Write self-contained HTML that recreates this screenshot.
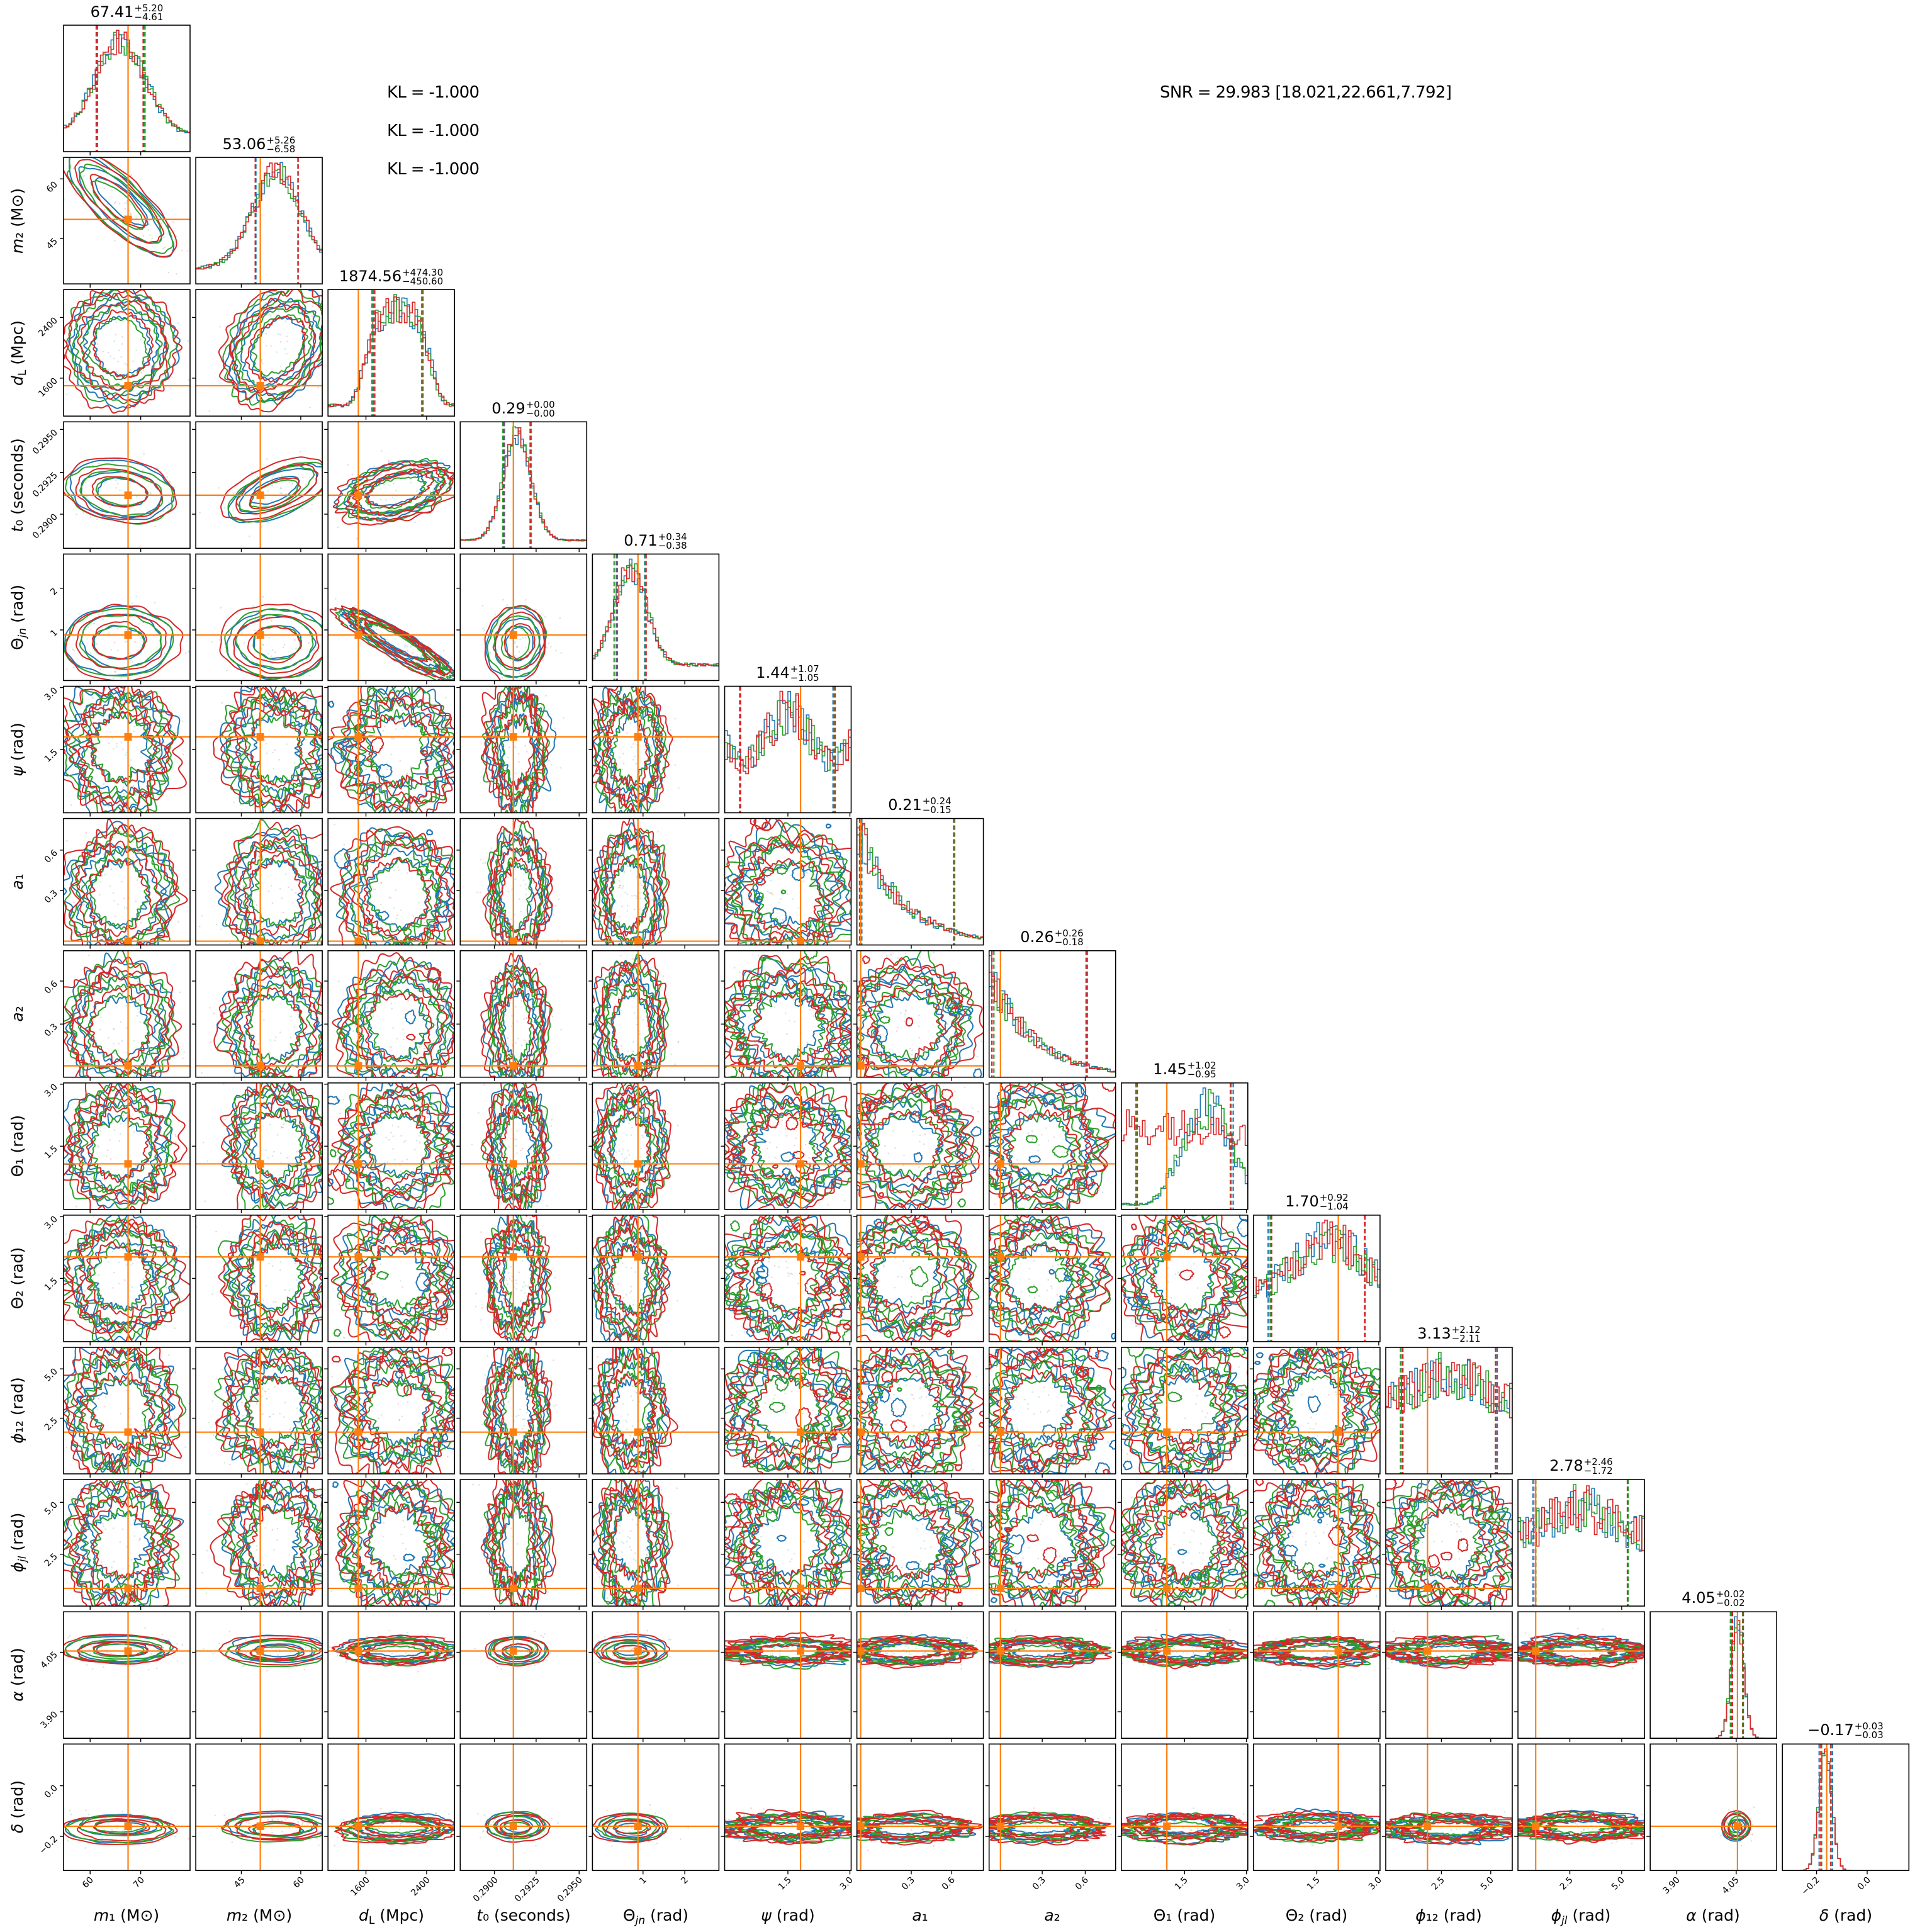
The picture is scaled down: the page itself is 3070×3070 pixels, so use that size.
<!DOCTYPE html>
<html><head><meta charset="utf-8">
<style>
body{margin:0;background:#fff;width:3070px;height:3070px;overflow:hidden;position:relative;font-family:"DejaVu Sans","Liberation Sans",sans-serif}
.t{position:absolute;width:201px;text-align:center;white-space:nowrap;font-size:24px;line-height:30px;height:30px;color:#000}
.t .ss{display:inline-block;vertical-align:middle;font-size:15px;line-height:14px;text-align:left;margin-left:1px}
svg text{font-family:"DejaVu Sans","Liberation Sans",sans-serif;fill:#000}
.tk{font-size:14px}
.al{font-size:25px}
.big{font-size:26px}
</style></head><body>
<svg id="s" width="3070" height="3070" style="position:absolute;left:0;top:0">
<defs id="df"></defs>
<g id="g"></g>
<text class="big" x="615" y="155" textLength="147">KL = -1.000</text>
<text class="big" x="615" y="216" textLength="147">KL = -1.000</text>
<text class="big" x="615" y="277" textLength="147">KL = -1.000</text>
<text class="big" x="1843" y="155" textLength="464">SNR = 29.983 [18.021,22.661,7.792]</text>
<g class="tk" text-anchor="end">
<text x="149" y="2988" transform="rotate(-45 149 2988)">60</text>
<text x="230" y="2988" transform="rotate(-45 230 2988)">70</text>
<text x="390" y="2988" transform="rotate(-45 390 2988)">45</text>
<text x="484" y="2988" transform="rotate(-45 484 2988)">60</text>
<text x="588" y="2988" transform="rotate(-45 588 2988)">1600</text>
<text x="684" y="2988" transform="rotate(-45 684 2988)">2400</text>
<text x="792" y="2988" transform="rotate(-45 792 2988)">0.2900</text>
<text x="858" y="2988" transform="rotate(-45 858 2988)">0.2925</text>
<text x="926" y="2988" transform="rotate(-45 926 2988)">0.2950</text>
<text x="1028" y="2988" transform="rotate(-45 1028 2988)">1</text>
<text x="1094" y="2988" transform="rotate(-45 1094 2988)">2</text>
<text x="1258" y="2988" transform="rotate(-45 1258 2988)">1.5</text>
<text x="1356" y="2988" transform="rotate(-45 1356 2988)">3.0</text>
<text x="1454" y="2988" transform="rotate(-45 1454 2988)">0.3</text>
<text x="1518" y="2988" transform="rotate(-45 1518 2988)">0.6</text>
<text x="1662" y="2988" transform="rotate(-45 1662 2988)">0.3</text>
<text x="1730" y="2988" transform="rotate(-45 1730 2988)">0.6</text>
<text x="1888" y="2988" transform="rotate(-45 1888 2988)">1.5</text>
<text x="1986" y="2988" transform="rotate(-45 1986 2988)">3.0</text>
<text x="2098" y="2988" transform="rotate(-45 2098 2988)">1.5</text>
<text x="2196" y="2988" transform="rotate(-45 2196 2988)">3.0</text>
<text x="2296" y="2988" transform="rotate(-45 2296 2988)">2.5</text>
<text x="2374" y="2988" transform="rotate(-45 2374 2988)">5.0</text>
<text x="2500" y="2988" transform="rotate(-45 2500 2988)">2.5</text>
<text x="2582" y="2988" transform="rotate(-45 2582 2988)">5.0</text>
<text x="2670" y="2988" transform="rotate(-45 2670 2988)">3.90</text>
<text x="2764" y="2988" transform="rotate(-45 2764 2988)">4.05</text>
<text x="2892" y="2988" transform="rotate(-45 2892 2988)">−0.2</text>
<text x="2973" y="2988" transform="rotate(-45 2973 2988)">0.0</text>
</g>
<g class="tk" text-anchor="end">
<text x="92" y="294" transform="rotate(-45 92 294)">60</text>
<text x="92" y="384" transform="rotate(-45 92 384)">45</text>
<text x="92" y="510" transform="rotate(-45 92 510)">2400</text>
<text x="92" y="606" transform="rotate(-45 92 606)">1600</text>
<text x="92" y="688" transform="rotate(-45 92 688)">0.2950</text>
<text x="92" y="756" transform="rotate(-45 92 756)">0.2925</text>
<text x="92" y="822" transform="rotate(-45 92 822)">0.2900</text>
<text x="92" y="940" transform="rotate(-45 92 940)">2</text>
<text x="92" y="1006" transform="rotate(-45 92 1006)">1</text>
<text x="92" y="1098" transform="rotate(-45 92 1098)">3.0</text>
<text x="92" y="1196" transform="rotate(-45 92 1196)">1.5</text>
<text x="92" y="1356" transform="rotate(-45 92 1356)">0.6</text>
<text x="92" y="1420" transform="rotate(-45 92 1420)">0.3</text>
<text x="92" y="1564" transform="rotate(-45 92 1564)">0.6</text>
<text x="92" y="1632" transform="rotate(-45 92 1632)">0.3</text>
<text x="92" y="1728" transform="rotate(-45 92 1728)">3.0</text>
<text x="92" y="1826" transform="rotate(-45 92 1826)">1.5</text>
<text x="92" y="1938" transform="rotate(-45 92 1938)">3.0</text>
<text x="92" y="2036" transform="rotate(-45 92 2036)">1.5</text>
<text x="92" y="2180" transform="rotate(-45 92 2180)">5.0</text>
<text x="92" y="2258" transform="rotate(-45 92 2258)">2.5</text>
<text x="92" y="2392" transform="rotate(-45 92 2392)">5.0</text>
<text x="92" y="2474" transform="rotate(-45 92 2474)">2.5</text>
<text x="92" y="2630" transform="rotate(-45 92 2630)">4.05</text>
<text x="92" y="2725" transform="rotate(-45 92 2725)">3.90</text>
<text x="92" y="2842" transform="rotate(-45 92 2842)">0.0</text>
<text x="92" y="2923" transform="rotate(-45 92 2923)">−0.2</text>
</g>
<g class="al" text-anchor="middle">
<text x="201" y="3052"><tspan font-style="italic">m</tspan>₁ (M⊙)</text>
<text x="412" y="3052"><tspan font-style="italic">m</tspan>₂ (M⊙)</text>
<text x="622" y="3052"><tspan font-style="italic">d</tspan><tspan font-size="17" dy="5">L</tspan><tspan dy="-5"> (Mpc)</tspan></text>
<text x="832" y="3052"><tspan font-style="italic">t</tspan>₀ (seconds)</text>
<text x="1042" y="3052">Θ<tspan font-size="17" dy="5" font-style="italic">jn</tspan><tspan dy="-5"> (rad)</tspan></text>
<text x="1252" y="3052"><tspan font-style="italic">ψ</tspan> (rad)</text>
<text x="1462" y="3052"><tspan font-style="italic">a</tspan>₁</text>
<text x="1672" y="3052"><tspan font-style="italic">a</tspan>₂</text>
<text x="1882" y="3052">Θ₁ (rad)</text>
<text x="2092" y="3052">Θ₂ (rad)</text>
<text x="2302" y="3052"><tspan font-style="italic">ϕ</tspan>₁₂ (rad)</text>
<text x="2512" y="3052"><tspan font-style="italic">ϕ</tspan><tspan font-size="17" dy="5" font-style="italic">jl</tspan><tspan dy="-5"> (rad)</tspan></text>
<text x="2722" y="3052"><tspan font-style="italic">α</tspan> (rad)</text>
<text x="2933" y="3052"><tspan font-style="italic">δ</tspan> (rad)</text>
</g>
<g class="al" text-anchor="middle">
<text transform="translate(36 351) rotate(-90)"><tspan font-style="italic">m</tspan>₂ (M⊙)</text>
<text transform="translate(36 561) rotate(-90)"><tspan font-style="italic">d</tspan><tspan font-size="17" dy="5">L</tspan><tspan dy="-5"> (Mpc)</tspan></text>
<text transform="translate(36 771) rotate(-90)"><tspan font-style="italic">t</tspan>₀ (seconds)</text>
<text transform="translate(36 981) rotate(-90)">Θ<tspan font-size="17" dy="5" font-style="italic">jn</tspan><tspan dy="-5"> (rad)</tspan></text>
<text transform="translate(36 1191) rotate(-90)"><tspan font-style="italic">ψ</tspan> (rad)</text>
<text transform="translate(36 1401) rotate(-90)"><tspan font-style="italic">a</tspan>₁</text>
<text transform="translate(36 1611) rotate(-90)"><tspan font-style="italic">a</tspan>₂</text>
<text transform="translate(36 1821) rotate(-90)">Θ₁ (rad)</text>
<text transform="translate(36 2031) rotate(-90)">Θ₂ (rad)</text>
<text transform="translate(36 2241) rotate(-90)"><tspan font-style="italic">ϕ</tspan>₁₂ (rad)</text>
<text transform="translate(36 2451) rotate(-90)"><tspan font-style="italic">ϕ</tspan><tspan font-size="17" dy="5" font-style="italic">jl</tspan><tspan dy="-5"> (rad)</tspan></text>
<text transform="translate(36 2661) rotate(-90)"><tspan font-style="italic">α</tspan> (rad)</text>
<text transform="translate(36 2871) rotate(-90)"><tspan font-style="italic">δ</tspan> (rad)</text>
</g>
</svg>
<div class="t" style="left:101px;top:4px">67.41<span class="ss">+5.20<br>−4.61</span></div>
<div class="t" style="left:311px;top:214px">53.06<span class="ss">+5.26<br>−6.58</span></div>
<div class="t" style="left:521px;top:424px">1874.56<span class="ss">+474.30<br>−450.60</span></div>
<div class="t" style="left:731px;top:634px">0.29<span class="ss">+0.00<br>−0.00</span></div>
<div class="t" style="left:941px;top:844px">0.71<span class="ss">+0.34<br>−0.38</span></div>
<div class="t" style="left:1151px;top:1054px">1.44<span class="ss">+1.07<br>−1.05</span></div>
<div class="t" style="left:1361px;top:1264px">0.21<span class="ss">+0.24<br>−0.15</span></div>
<div class="t" style="left:1571px;top:1474px">0.26<span class="ss">+0.26<br>−0.18</span></div>
<div class="t" style="left:1782px;top:1684px">1.45<span class="ss">+1.02<br>−0.95</span></div>
<div class="t" style="left:1992px;top:1894px">1.70<span class="ss">+0.92<br>−1.04</span></div>
<div class="t" style="left:2202px;top:2104px">3.13<span class="ss">+2.12<br>−2.11</span></div>
<div class="t" style="left:2412px;top:2314px">2.78<span class="ss">+2.46<br>−1.72</span></div>
<div class="t" style="left:2622px;top:2524px">4.05<span class="ss">+0.02<br>−0.02</span></div>
<div class="t" style="left:2832px;top:2734px">−0.17<span class="ss">+0.03<br>−0.03</span></div>
<script>
(function(){
const S=[[.45,.4,.2,.51],[.64,.38,.2,.51],[.55,.42,.5,.24],[.45,.22,.1,.42],[.3,.26,.2,.36],[.5,.47,1,.6],[.4,.47,.8,.03],[.4,.47,.8,.09],[.5,.45,.9,.36],[.5,.45,.9,.67],[.5,.48,1,.33],[.5,.48,1,.14],[.69,.1,0,.69],[.34,.1,0,.35]];
const TK=[[.21,.61],[.36,.83],[.30,.78],[.27,.60,.94],[.40,.73],[.50,.99],[.43,.75],[.42,.76],[.50,.99],[.50,.99],[.44,.83],[.41,.82],[.21,.68],[.27,.67]];
const RH={'0,1':-.8,'1,3':.6,'2,3':.4,'2,4':-.9,'0,3':-.2,'1,2':.3,'3,4':.1};
const C=['#1f77b4','#2ca02c','#d62728'];
let seed=12345;
function R(){seed|=0;seed=seed+0x6D2B79F5|0;let t=Math.imul(seed^seed>>>15,1|seed);t=t+Math.imul(t^t>>>7,61|t)^t;return((t^t>>>14)>>>0)/4294967296;}
const W=201;
function px(j){return 101+j*210.1;} function py(i){return 40+i*210.1;}
let defs='',out='';
function curve(cx,cy,rx,ry,rh,amp,col,hf){
  const NH=hf?34:14;const ph=[],a=[];for(let n=0;n<NH;n++){ph.push(R()*6.2832);a.push((R()-.5)*2/(1+n*(hf?0.12:0.25)));}
  const q=Math.sqrt(1-rh*rh);const N=hf?260:160;let d='';
  for(let k=0;k<=N;k++){const th=k/N*6.2832;let m=1;for(let n=0;n<NH;n++)m+=amp*a[n]*Math.sin((n+2)*th+ph[n])/(hf?5:3);
    const ex=Math.cos(th)*m,ey=Math.sin(th)*m;const x=cx+rx*ex,y=cy-ry*(rh*ex+q*ey);
    d+=(k?'L':'M')+x.toFixed(1)+' '+y.toFixed(1);}
  return `<path d="${d}Z" fill="none" stroke="${col}" stroke-width="2"/>`;
}
function shape(p,x,c){const s=S[p];
  if(p==6||p==7)return Math.exp(-x/0.35);
  if(p==5)return 0.75+0.25*Math.cos((x-0.5)*9);
  if(p==8)return c==2?0.8:Math.max(0.05,Math.exp(-(x-0.68)*(x-0.68)/(2*0.2*0.2)));
  if(p==9)return 0.5+0.5*Math.exp(-(x-0.6)*(x-0.6)/(2*0.25*0.25));
  if(p==2)return 0.1+0.9*Math.exp(-Math.pow(Math.abs(x-0.55)/0.28,4));
  const sd=s[1]*0.5;const u=s[2];return u*0.7+(1-u*0.7)*Math.exp(-(x-s[0])*(x-s[0])/(2*sd*sd));}
for(let i=0;i<14;i++){for(let j=0;j<=i;j++){
  const x0=px(j),y0=py(i);const id='c'+i+'_'+j;
  defs+=`<clipPath id="${id}"><rect x="${x0}" y="${y0}" width="${W}" height="${W}"/></clipPath>`;
  let s='';
  if(i==j){
    const nb=48,vals=[];let mx=0;const u=S[i][2];
    for(let c=0;c<3;c++){const v=[];for(let b=0;b<nb;b++){const x=(b+.5)/nb;let f=shape(i,x,c);
      f*=1+(R()-.5)*(0.15+0.35*u);v.push(f);if(f>mx)mx=f;}vals.push(v);}
    for(let c=0;c<3;c++){let d=`M${x0} ${y0+W}`;for(let b=0;b<nb;b++){const y=y0+W-vals[c][b]/mx*W*0.96;d+=`L${(x0+b*W/nb).toFixed(1)} ${y.toFixed(1)}L${(x0+(b+1)*W/nb).toFixed(1)} ${y.toFixed(1)}`;}
      s+=`<path d="${d}" fill="none" stroke="${C[c]}" stroke-width="1.6"/>`;}
    const sd=(u>.5)?.37:S[i][1]*0.45;
    for(let c=0;c<3;c++){for(const sg of[-1,1]){const x=x0+W*(S[i][0]+sg*sd+(R()-.5)*.03);
      s+=`<line x1="${x.toFixed(1)}" y1="${y0}" x2="${x.toFixed(1)}" y2="${y0+W}" stroke="${C[c]}" stroke-width="2.2" stroke-dasharray="7,4"/>`;}}
    const tx=x0+W*S[i][3];s+=`<line x1="${tx}" y1="${y0}" x2="${tx}" y2="${y0+W}" stroke="#ff7f0e" stroke-width="2.2"/>`;
  }else{
    const ui=S[i][2],uj=S[j][2];const um=Math.max(ui,uj);const rh=RH[j+','+i]||0;
    for(let n=0;n<70;n++){const c=C[Math.floor(R()*3)];const g1=(R()+R()+R()-1.5)*1.3,g2=(R()+R()+R()-1.5)*1.3;
      const x=x0+W*(S[j][0]+S[j][1]*g1),y=y0+W*(1-S[i][0])-W*S[i][1]*(rh*g1+Math.sqrt(1-rh*rh)*g2);
      s+=`<circle cx="${x.toFixed(1)}" cy="${y.toFixed(1)}" r="1.3" fill="${c}" opacity="0.2"/>`;}
    const hf=um>0.45;
    const lv=hf?[.55,.75,.9,1.05]:[.5,.8,1.05];
    for(let c=0;c<3;c++){for(const k of lv){
      const cx=x0+W*(S[j][0]+(R()-.5)*.04),cy=y0+W*(1-S[i][0]+(R()-.5)*.04);
      const amp=hf?0.45*um:0.06+0.25*um;
      const f=c==2?1.08:1;
      s+=curve(cx,cy,W*S[j][1]*k*f,W*S[i][1]*k*f,rh,amp,C[c],hf);}}
    const nbl=(ui>0.45&&uj>0.45)?Math.round(22*ui*uj):0;
    for(let n=0;n<nbl;n++){const r=W*(0.015+0.045*R());s+=curve(x0+W*R(),y0+W*R(),r,r*(0.6+0.8*R()),0,0.3,C[Math.floor(R()*3)],false);}
    const tx=x0+W*S[j][3],ty=y0+W*(1-S[i][3]);
    s+=`<line x1="${tx}" y1="${y0}" x2="${tx}" y2="${y0+W}" stroke="#ff7f0e" stroke-width="2.2"/><line x1="${x0}" y1="${ty}" x2="${x0+W}" y2="${ty}" stroke="#ff7f0e" stroke-width="2.2"/><rect x="${tx-6}" y="${ty-6}" width="12" height="12" fill="#ff7f0e"/>`;
  }
  out+=`<g clip-path="url(#${id})">${s}</g>`;
  out+=`<rect x="${x0}" y="${y0}" width="${W}" height="${W}" fill="none" stroke="#000" stroke-width="1.6"/>`;
  for(const f of TK[j]){const x=x0+W*f;out+=`<line x1="${x}" y1="${y0+W}" x2="${x}" y2="${y0+W+6}" stroke="#000" stroke-width="1.4"/>`;}
  if(i!=j)for(const f of TK[i]){const y=y0+W*(1-f);out+=`<line x1="${x0-6}" y1="${y}" x2="${x0}" y2="${y}" stroke="#000" stroke-width="1.4"/>`;}
}}
document.getElementById('df').innerHTML=defs;
document.getElementById('g').innerHTML=out;
})();
</script>
</body></html>
